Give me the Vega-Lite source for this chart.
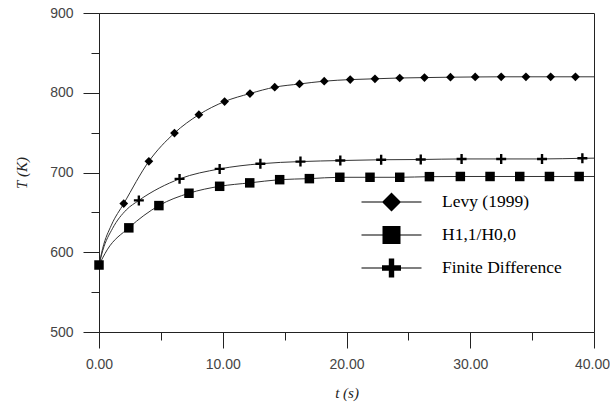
{
  "$schema": "https://vega.github.io/schema/vega-lite/v6.json",
  "width": 495,
  "height": 319,
  "autosize": {"type": "none"},
  "padding": {"left": 99, "top": 13, "right": 16, "bottom": 81},
  "background": "white",
  "config": {
    "view": {"stroke": "#222", "strokeWidth": 1},
    "axis": {
      "grid": false,
      "domainColor": "#222",
      "tickColor": "#222",
      "labelFont": "Liberation Sans",
      "labelFontSize": 14,
      "labelColor": "#444",
      "labelFlush": false,
      "labelOverlap": false,
      "titleFont": "Liberation Serif",
      "titleFontSize": 15,
      "titleFontStyle": "italic",
      "titleFontWeight": "normal",
      "titleColor": "#222"
    }
  },
  "data": {
    "values": [
      {"series": "Levy (1999)", "t": 0, "T": 584, "marker": false},
      {"series": "Levy (1999)", "t": 0.3, "T": 605, "marker": false},
      {"series": "Levy (1999)", "t": 1.0, "T": 634, "marker": false},
      {"series": "Levy (1999)", "t": 2.0, "T": 661, "marker": true},
      {"series": "Levy (1999)", "t": 4.03, "T": 714, "marker": true},
      {"series": "Levy (1999)", "t": 6.1, "T": 749.5, "marker": true},
      {"series": "Levy (1999)", "t": 8.07, "T": 772.5, "marker": true},
      {"series": "Levy (1999)", "t": 10.15, "T": 789, "marker": true},
      {"series": "Levy (1999)", "t": 12.2, "T": 799, "marker": true},
      {"series": "Levy (1999)", "t": 14.2, "T": 807, "marker": true},
      {"series": "Levy (1999)", "t": 16.2, "T": 811, "marker": true},
      {"series": "Levy (1999)", "t": 18.2, "T": 814.5, "marker": true},
      {"series": "Levy (1999)", "t": 20.3, "T": 816.5, "marker": true},
      {"series": "Levy (1999)", "t": 22.3, "T": 817.5, "marker": true},
      {"series": "Levy (1999)", "t": 24.3, "T": 818.5, "marker": true},
      {"series": "Levy (1999)", "t": 26.3, "T": 819, "marker": true},
      {"series": "Levy (1999)", "t": 28.4, "T": 819.5, "marker": true},
      {"series": "Levy (1999)", "t": 30.4, "T": 819.8, "marker": true},
      {"series": "Levy (1999)", "t": 32.5, "T": 820, "marker": true},
      {"series": "Levy (1999)", "t": 34.5, "T": 820, "marker": true},
      {"series": "Levy (1999)", "t": 36.5, "T": 820, "marker": true},
      {"series": "Levy (1999)", "t": 38.5, "T": 820, "marker": true},
      {"series": "Levy (1999)", "t": 40, "T": 820, "marker": false},
      {"series": "Finite Difference", "t": 0, "T": 584, "marker": false},
      {"series": "Finite Difference", "t": 0.3, "T": 602, "marker": false},
      {"series": "Finite Difference", "t": 1.1, "T": 630, "marker": false},
      {"series": "Finite Difference", "t": 2.2, "T": 653, "marker": false},
      {"series": "Finite Difference", "t": 3.22, "T": 665, "marker": true},
      {"series": "Finite Difference", "t": 6.51, "T": 692, "marker": true},
      {"series": "Finite Difference", "t": 9.75, "T": 704.5, "marker": true},
      {"series": "Finite Difference", "t": 13.04, "T": 711, "marker": true},
      {"series": "Finite Difference", "t": 16.28, "T": 713.7, "marker": true},
      {"series": "Finite Difference", "t": 19.5, "T": 715, "marker": true},
      {"series": "Finite Difference", "t": 22.8, "T": 716, "marker": true},
      {"series": "Finite Difference", "t": 26.0, "T": 716.3, "marker": true},
      {"series": "Finite Difference", "t": 29.3, "T": 717, "marker": true},
      {"series": "Finite Difference", "t": 32.5, "T": 717, "marker": true},
      {"series": "Finite Difference", "t": 35.8, "T": 717, "marker": true},
      {"series": "Finite Difference", "t": 39.06, "T": 717.8, "marker": true},
      {"series": "Finite Difference", "t": 40, "T": 718, "marker": false},
      {"series": "H1,1/H0,0", "t": 0, "T": 584, "marker": true},
      {"series": "H1,1/H0,0", "t": 0.66, "T": 603, "marker": false},
      {"series": "H1,1/H0,0", "t": 2.41, "T": 630.6, "marker": true},
      {"series": "H1,1/H0,0", "t": 4.84, "T": 658.5, "marker": true},
      {"series": "H1,1/H0,0", "t": 7.27, "T": 674, "marker": true},
      {"series": "H1,1/H0,0", "t": 9.75, "T": 682.7, "marker": true},
      {"series": "H1,1/H0,0", "t": 12.18, "T": 687, "marker": true},
      {"series": "H1,1/H0,0", "t": 14.6, "T": 691, "marker": true},
      {"series": "H1,1/H0,0", "t": 17.0, "T": 692.3, "marker": true},
      {"series": "H1,1/H0,0", "t": 19.46, "T": 694, "marker": true},
      {"series": "H1,1/H0,0", "t": 21.9, "T": 694, "marker": true},
      {"series": "H1,1/H0,0", "t": 24.3, "T": 694, "marker": true},
      {"series": "H1,1/H0,0", "t": 26.7, "T": 694.8, "marker": true},
      {"series": "H1,1/H0,0", "t": 29.2, "T": 695, "marker": true},
      {"series": "H1,1/H0,0", "t": 31.6, "T": 695, "marker": true},
      {"series": "H1,1/H0,0", "t": 34.0, "T": 695, "marker": true},
      {"series": "H1,1/H0,0", "t": 36.4, "T": 695, "marker": true},
      {"series": "H1,1/H0,0", "t": 38.8, "T": 695, "marker": true},
      {"series": "H1,1/H0,0", "t": 40, "T": 695, "marker": false}
    ]
  },
  "resolve": {"axis": {"x": "independent", "y": "independent"}, "scale": {"shape": "independent"}, "legend": {"shape": "independent"}},
  "layer": [
    {
      "mark": {"type": "line", "interpolate": "monotone", "stroke": "#333", "strokeWidth": 1},
      "encoding": {
        "x": {
          "field": "t", "type": "quantitative",
          "scale": {"domain": [0, 40], "nice": false, "zero": false},
          "axis": {
            "values": [0, 10, 20, 30, 40], "format": ".2f", "tickSize": 16,
            "labelPadding": 9, "title": "t (s)", "titlePadding": 14,
            "labelOffset": {"condition": {"test": "datum.value === 40", "value": -2}, "value": 0}
          }
        },
        "y": {
          "field": "T", "type": "quantitative",
          "scale": {"domain": [500, 900], "nice": false, "zero": false},
          "axis": {
            "values": [500, 600, 700, 800, 900], "format": "d", "tickSize": 16,
            "labelPadding": 10, "title": "T (K)", "titlePadding": 20
          }
        },
        "detail": {"field": "series"}
      }
    },
    {
      "transform": [{"filter": "datum.marker"}],
      "mark": {"type": "point", "filled": true, "opacity": 1, "color": "black", "size": 90},
      "encoding": {
        "x": {
          "field": "t", "type": "quantitative",
          "axis": {"orient": "bottom", "values": [5, 15, 25, 35], "tickSize": 8, "labels": false, "domain": false, "title": null}
        },
        "y": {
          "field": "T", "type": "quantitative",
          "axis": {"orient": "left", "values": [550, 650, 750, 850], "tickSize": 8, "labels": false, "domain": false, "title": null}
        },
        "shape": {
          "field": "series", "type": "nominal",
          "scale": {
            "domain": ["Levy (1999)", "H1,1/H0,0", "Finite Difference"],
            "range": ["M0,-0.92L0.92,0L0,0.92L-0.92,0Z", "M-1,-1H1V1H-1Z", "M-1.05,-0.25H-0.25V-1.05H0.25V-0.25H1.05V0.25H0.25V1.05H-0.25V0.25H-1.05Z"]
          },
          "legend": null
        }
      }
    },
    {
      "transform": [{"filter": "false"}],
      "mark": {"type": "point", "filled": true, "opacity": 1, "color": "black", "size": 400},
      "encoding": {
        "x": {"field": "t", "type": "quantitative", "axis": null},
        "y": {"field": "T", "type": "quantitative", "axis": null},
        "shape": {
          "field": "series", "type": "nominal",
          "scale": {
            "domain": ["Levy (1999)", "H1,1/H0,0", "Finite Difference"],
            "range": [
              "M-3,-0.05H3V0.05H-3ZM0,-0.95L0.95,0L0,0.95L-0.95,0Z",
              "M-3,-0.05H3V0.05H-3ZM-0.9,-0.9H0.9V0.9H-0.9Z",
              "M-3,-0.05H3V0.05H-3ZM-0.95,-0.27H-0.27V-0.95H0.27V-0.27H0.95V0.27H0.27V0.95H-0.27V0.27H-0.95Z"
            ]
          },
          "legend": {
            "orient": "none", "legendX": 281.5, "legendY": 178, "title": null,
            "symbolSize": 400, "labelOffset": 39.5, "rowPadding": 8,
            "symbolFillColor": "black", "symbolOpacity": 1,
            "labelFont": "Liberation Serif", "labelFontSize": 17.5, "labelColor": "black",
            "labelLimit": 300
          }
        }
      }
    }
  ]
}
